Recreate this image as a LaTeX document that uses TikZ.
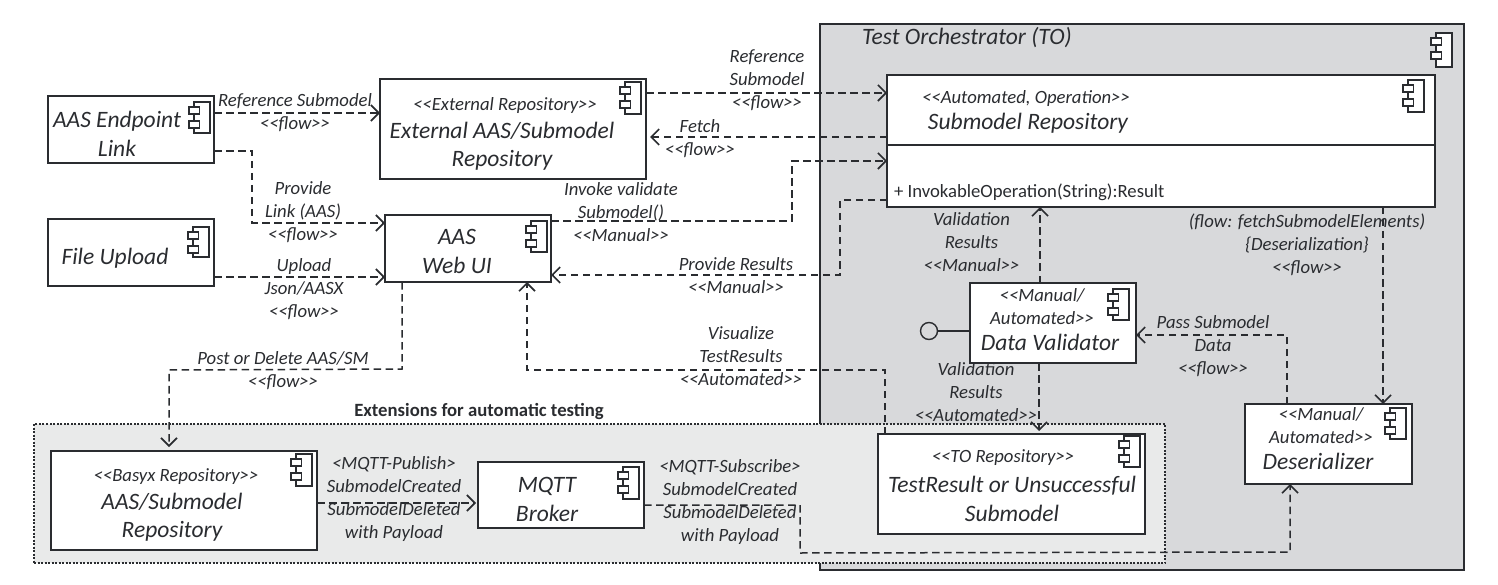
\documentclass[tikz,border=0pt]{standalone}
\usepackage{fontspec}
\setmainfont{Carlito}
\newfontfamily\cf{Carlito}
\usetikzlibrary{arrows.meta}
\definecolor{ink}{HTML}{2A2C30}
\definecolor{toFill}{HTML}{D8D9DB}
\definecolor{extFill}{HTML}{E9EAEA}
\tikzset{
  x=1pt,y=-1pt,
  every node/.style={inner sep=0pt,outer sep=0pt,text=ink},
  box/.style={draw=ink,line width=1.6pt,fill=white,rectangle},
  iconpart/.style={draw=ink,line width=1.1pt,fill=white},
  flow/.style={draw=ink,line width=1.5pt,dash pattern=on 7.5pt off 4.5pt,-{Straight Barb[length=8pt,width=16pt,line width=1.6pt]}},
  big/.style={font=\cf\itshape\fontsize{23.5}{28.5}\selectfont,align=center},
  mid/.style={font=\cf\itshape\fontsize{18.7}{23}\selectfont,align=center},
  plain/.style={font=\cf\fontsize{18.7}{23}\selectfont,align=left,anchor=west},
  head/.style={font=\cf\bfseries\fontsize{18.7}{23}\selectfont,align=center},
}
\newcommand\compbox[5]{%
  \node[box,minimum width=#4pt-#2pt,minimum height=#5pt-#3pt] (#1) at ({(#2+#4)/2},{(#3+#5)/2}) {};}
\newcommand\compicon[3]{%
  \draw[iconpart] (#1-16,#2) rectangle (#1,#2+#3);
  \draw[iconpart] (#1-21,#2+5) rectangle (#1-10.5,#2+12);
  \draw[iconpart] (#1-21,#2+19) rectangle (#1-10.5,#2+26);}
\begin{document}
\begin{tikzpicture}
\useasboundingbox (0,0) rectangle (1498,585);
% containers
\node[draw=ink,line width=1.5pt,fill=toFill,rectangle,minimum width=644pt,minimum height=546pt] (to) at (1142,297) {};
\node[draw=ink,line width=1.3pt,dash pattern=on 2pt off 1.5pt,fill=extFill,rectangle,minimum width=1131pt,minimum height=139pt] (ext) at (599.5,493.5) {};
\compicon{1452}{33}{34}
% components
\compbox{ep}{48}{96}{214}{163}
\compbox{fu}{48}{219}{214}{286}
\compbox{er}{380}{79}{646}{179}
\compbox{ui}{385}{215}{551}{282}
\compbox{sr}{887}{75}{1435}{207}
\compbox{dv}{970}{283}{1136}{363}
\compbox{de}{1245}{404}{1412}{484}
\compbox{tr}{878}{434}{1145}{534}
\compbox{ba}{51}{451}{317}{550}
\compbox{mq}{478}{462}{644}{528}
\draw[draw=ink,line width=1.6pt] (sr.west |- 0,145) -- (sr.east |- 0,145);
\compicon{210}{102}{31}
\compicon{209}{227}{30}
\compicon{641}{82}{32}
\compicon{547}{221}{31}
\compicon{1424}{80}{32}
\compicon{1129}{289}{31}
\compicon{1406}{408}{31}
\compicon{1140}{436}{31}
\compicon{312}{454}{32}
\compicon{639}{467}{32}
% lollipop
\node[draw=ink,line width=1.4pt,circle,minimum size=17pt,fill=toFill] (lol) at (929,331) {};
\draw[draw=ink,line width=1.4pt] (lol.east) -- (dv.west |- lol.east);
% connectors
\draw[flow] (ep.east |- 0,113) -- (er.west |- 0,113);
\draw[flow] (ep.east |- 0,151) -- (252,151) -- (252,223) -- (ui.west |- 0,223);
\draw[flow] (fu.east |- 0,277) -- (ui.west |- 0,277);
\draw[flow] (er.east |- 0,93) -- (sr.west |- 0,93);
\draw[flow] (sr.west |- 0,137) -- (650,137);
\draw[flow] (ui.east |- 0,221) -- (792,221) -- (792,161) -- (sr.west |- 0,161);
\draw[flow] (sr.west |- 0,200) -- (840,200) -- (840,275) -- (ui.east |- 0,275);
\draw[flow] (1040,283) -- (1040,207);
\draw[flow] (1383,207) -- (1383,404);
\draw[flow] (1287,404) -- (1287,335) -- (dv.east |- 0,335);
\draw[flow] (1039,363) -- (1039,431);
\draw[flow] (885,434) -- (885,370) -- (527,370) -- (527,282);
\draw[flow] (402,282) -- (402,369) -- (169,370) -- (169,447);
\draw[flow] (ba.east |- 0,503) -- (476,503);
\draw[flow] (mq.east |- 0,505) -- (800,505) -- (800,553) -- (1290,552) -- (1290,484);
% component texts
\node[big] (tEp) at (117,134) {AAS Endpoint\\Link};
\node[big] (tFu) at (115,258) {File Upload};
\node[mid] (sEr) at (505,106) {<<External Repository>>};
\node[big] (tEr) at (502,146) {External AAS/Submodel\\Repository};
\node[big] (tUi) at (457,251.5) {AAS\\Web UI};
\node[big] (tTo) at (967,38) {Test Orchestrator (TO)};
\node[mid] (sSr) at (1026,99) {<<Automated, Operation>>};
\node[big] (tSr) at (1028,123) {Submodel Repository};
\node[plain] (oSr) at (894,192) {+ InvokableOperation(String):Result};
\node[mid] (sDv) at (1042,307) {<<Manual/\\Automated>>};
\node[big] (tDv) at (1050,342) {Data Validator};
\node[mid] (sDe) at (1321,425.5) {<<Manual/\\Automated>>};
\node[big] (tDe) at (1318,461) {Deserializer};
\node[mid] (sTr) at (1003,458) {<<TO Repository>>};
\node[big] (tTr) at (1012,499) {TestResult or Unsuccessful\\Submodel};
\node[mid] (sBa) at (176,477) {<<Basyx Repository>>};
\node[big] (tBa) at (172,517) {AAS/Submodel\\Repository};
\node[big] (tMq) at (547,499.5) {MQTT\\Broker};
% labels
\node[head] (lExt) at (479,412) {Extensions for automatic testing};
\node[mid] (l1) at (295,112.5) {Reference Submodel\\<<flow>>};
\node[mid] (l2) at (303,212) {Provide\\Link (AAS)\\<<flow>>};
\node[mid] (l3) at (304,289) {Upload\\Json/AASX\\<<flow>>};
\node[mid] (l4) at (283,370.5) {Post or Delete AAS/SM\\<<flow>>};
\node[mid] (l5) at (394,499.5) {<MQTT-Publish>\\SubmodelCreated\\SubmodelDeleted\\with Payload};
\node[mid] (l6) at (730,502.5) {<MQTT-Subscribe>\\SubmodelCreated\\SubmodelDeleted\\with Payload};
\node[mid] (l7) at (767,80) {Reference\\Submodel\\<<flow>>};
\node[mid] (l8) at (700,139) {Fetch\\<<flow>>};
\node[mid] (l9) at (621,212) {Invoke validate\\Submodel()\\<<Manual>>};
\node[mid] (l10) at (736,275.5) {Provide Results\\<<Manual>>};
\node[mid] (l11) at (741,356) {Visualize\\TestResults\\<<Automated>>};
\node[mid] (l12) at (971.5,242.5) {Validation\\Results\\<<Manual>>};
\node[mid] (l13) at (1307,245) {(flow: fetchSubmodelElements)\\\{Deserialization\}\\<<flow>>};
\node[mid] (l14) at (976,392) {Validation\\Results\\<<Automated>>};
\node[mid] (l15) at (1213,346) {Pass Submodel\\Data\\<<flow>>};
\end{tikzpicture}
\end{document}
